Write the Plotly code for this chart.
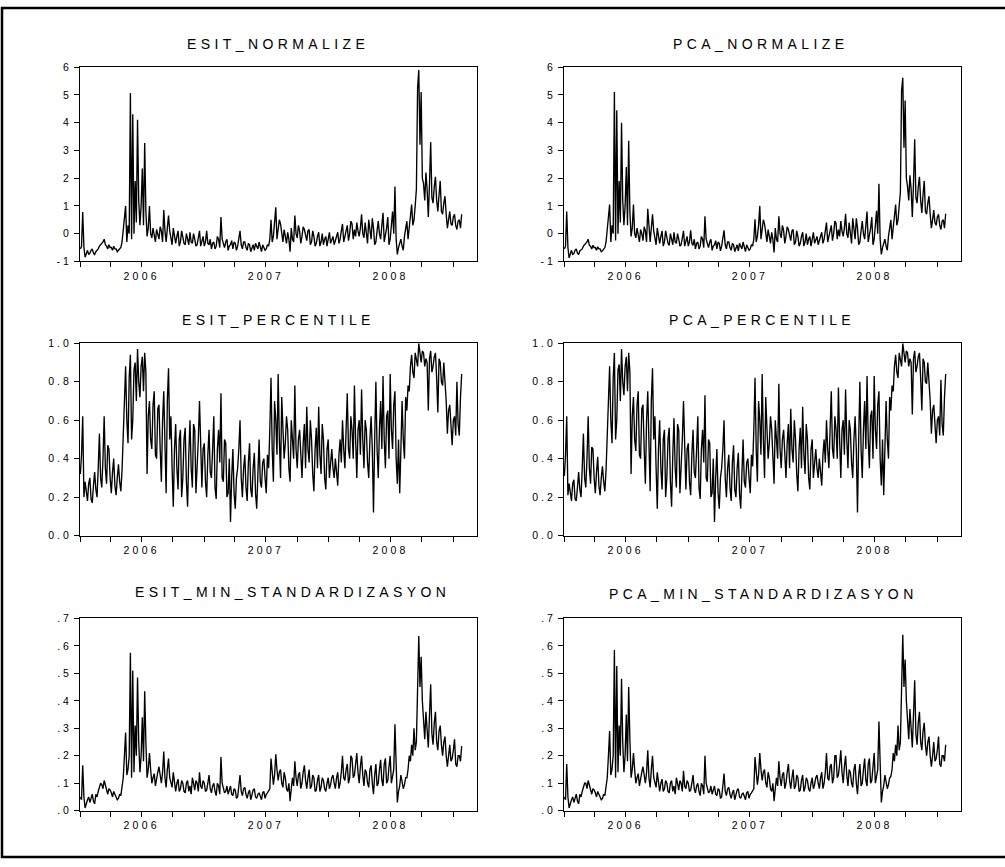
import plotly.graph_objects as go
import pandas as pd

# two observations per week: "_a" = start of week, "_b" = mid-week
dates = pd.date_range("2006-01-02", periods=321, freq="84h")

esit_normalize_a = [
    -0.55, 0.78, -0.85, -0.6, -0.7, -0.55, -0.75, -0.6, -0.45, -0.35,
    -0.2, -0.45, -0.4, -0.5, -0.45, -0.55, -0.6, -0.5, 0.1, 1.0,
    0.3, 5.07, 4.3, 1.9, 4.1, 0.3, 2.35, 3.27, -0.1, 1.0,
    -0.15, -0.05, 0.15, -0.2, 0.1, 0.85, -0.3, 0.65, -0.1, 0.2,
    -0.35, 0.1, -0.3, -0.15, -0.4, -0.2, 0.05, -0.35, -0.2, -0.4,
    0.1, -0.3, -0.45, 0.1, -0.4, -0.55, -0.3, -0.45, -0.2, 0.6,
    -0.35, -0.3, -0.6, -0.4, -0.55, -0.35, -0.45, 0.1, -0.55, -0.3,
    -0.6, -0.4, -0.5, -0.6, -0.45, -0.3, -0.65, -0.5, -0.55, -0.45,
    0.5, -0.1, 0.95, 0.15, 0.35, -0.3, -0.1, 0.05, -0.65, -0.2,
    0.65, -0.15, 0.1, -0.1, 0.15, -0.25, 0.15, -0.3, -0.1, -0.35,
    0.05, -0.3, -0.4, -0.1, -0.2, -0.35, -0.1, -0.25, 0.05, -0.2,
    0.35, -0.05, 0.3, 0.0, 0.35, 0.15, 0.4, -0.1, 0.7, -0.15,
    0.05, 0.5, -0.2, 0.2, -0.3, 0.45, -0.2, 0.75, -0.1, 0.6,
    -0.2, 0.8, 1.7, -0.75, -0.3, -0.45, -0.1, 0.45, 0.3, 1.05,
    0.5, 1.6, 5.9, 5.1, 1.8, 2.2, 0.6, 3.3, 1.1, 2.05,
    0.8, 1.9, 0.7, 1.35, 0.2, 0.8, 0.3, 0.7, 0.15, 0.5,
    0.7,
]
esit_normalize_b = [
    -0.45, -0.5, -0.7, -0.75, -0.6, -0.7, -0.65, -0.55, -0.4, -0.3,
    -0.4, -0.55, -0.5, -0.6, -0.55, -0.65, -0.55, -0.3, 0.4, -0.3,
    0.0, -0.2, 0.0, 0.4, 1.2, 1.0, 0.3, 0.8, 0.2, 0.0,
    0.2, -0.3, 0.0, 0.25, -0.3, 0.1, 0.2, 0.1, -0.4, -0.1,
    -0.1, -0.45, 0.1, -0.35, 0.0, -0.4, -0.3, 0.0, -0.45, -0.1,
    -0.45, -0.1, -0.3, -0.35, -0.2, -0.35, -0.55, -0.1, -0.5, -0.2,
    -0.5, -0.2, -0.45, -0.25, -0.3, -0.6, -0.2, -0.4, -0.3, -0.5,
    -0.35, -0.65, -0.4, -0.35, -0.55, -0.5, -0.4, -0.6, -0.4, -0.2,
    -0.3, 0.3, -0.2, 0.5, -0.1, 0.15, -0.35, -0.2, 0.2, -0.3,
    0.0, 0.3, -0.35, 0.25, -0.1, 0.1, -0.4, 0.1, -0.45, -0.1,
    -0.45, 0.0, -0.2, -0.45, 0.05, -0.2, -0.4, -0.05, -0.35, 0.1,
    -0.3, 0.2, -0.25, 0.45, -0.2, -0.1, 0.1, 0.2, 0.0, 0.4,
    -0.35, 0.1, 0.55, -0.4, 0.1, 0.0, 0.3, -0.3, 0.2, -0.4,
    0.3, 0.0, -0.2, -0.5, -0.2, -0.6, 0.2, -0.2, 0.6, 0.3,
    1.0, 5.25, 3.2, 2.0, 1.2, 1.6, 1.8, 1.3, 1.7, 1.2,
    1.4, 0.8, 1.1, 0.7, 0.5, 0.35, 0.6, 0.3, 0.45, 0.2,
]

pca_normalize_a = [
    -0.55, 0.8, -0.87, -0.6, -0.72, -0.55, -0.75, -0.58, -0.45, -0.33,
    -0.2, -0.45, -0.42, -0.5, -0.47, -0.55, -0.62, -0.5, 0.1, 1.05,
    0.3, 5.1, 4.45, 1.9, 4.0, 0.3, 2.4, 3.35, -0.1, 1.05,
    -0.15, -0.05, 0.15, -0.25, 0.1, 0.9, -0.3, 0.7, -0.1, 0.2,
    -0.35, 0.1, -0.3, -0.15, -0.42, -0.2, 0.05, -0.35, -0.2, -0.4,
    0.1, -0.3, -0.45, 0.12, -0.42, -0.55, -0.3, -0.45, -0.2, 0.63,
    -0.35, -0.3, -0.6, -0.4, -0.55, -0.35, -0.45, 0.12, -0.55, -0.3,
    -0.6, -0.4, -0.5, -0.62, -0.45, -0.3, -0.65, -0.5, -0.55, -0.45,
    0.52, -0.1, 1.0, 0.15, 0.35, -0.3, -0.1, 0.05, -0.68, -0.2,
    0.63, -0.15, 0.12, -0.1, 0.15, -0.25, 0.15, -0.3, -0.1, -0.35,
    0.05, -0.3, -0.4, -0.1, -0.2, -0.35, -0.1, -0.25, 0.05, -0.2,
    0.4, -0.05, 0.3, 0.0, 0.38, 0.15, 0.45, -0.1, 0.72, -0.15,
    0.05, 0.55, -0.2, 0.2, -0.3, 0.45, -0.2, 0.8, -0.1, 0.6,
    -0.2, 0.82, 1.8, -0.75, -0.3, -0.45, -0.1, 0.5, 0.3, 1.05,
    0.5, 1.5, 5.62, 4.8, 1.7, 2.1, 0.6, 3.4, 1.1, 2.05,
    0.75, 1.9, 0.7, 1.35, 0.2, 0.85, 0.3, 0.7, 0.15, 0.5,
    0.72,
]
pca_normalize_b = [
    -0.45, -0.5, -0.72, -0.75, -0.6, -0.7, -0.62, -0.55, -0.4, -0.3,
    -0.42, -0.55, -0.5, -0.6, -0.55, -0.65, -0.55, -0.3, 0.45, -0.3,
    0.0, -0.25, 0.0, 0.4, 1.2, 1.0, 0.3, 0.8, 0.2, 0.0,
    0.2, -0.3, 0.0, 0.25, -0.3, 0.1, 0.2, 0.1, -0.4, -0.1,
    -0.1, -0.45, 0.1, -0.35, 0.0, -0.4, -0.3, 0.0, -0.45, -0.1,
    -0.45, -0.1, -0.3, -0.35, -0.2, -0.35, -0.55, -0.1, -0.5, -0.2,
    -0.5, -0.2, -0.45, -0.25, -0.3, -0.62, -0.2, -0.4, -0.3, -0.5,
    -0.35, -0.65, -0.4, -0.35, -0.55, -0.5, -0.4, -0.6, -0.4, -0.2,
    -0.3, 0.3, -0.2, 0.5, -0.1, 0.15, -0.35, -0.2, 0.2, -0.3,
    0.0, 0.3, -0.35, 0.25, -0.1, 0.1, -0.4, 0.1, -0.45, -0.1,
    -0.45, 0.0, -0.2, -0.45, 0.05, -0.2, -0.4, -0.05, -0.35, 0.1,
    -0.3, 0.2, -0.25, 0.45, -0.2, -0.1, 0.1, 0.2, 0.0, 0.4,
    -0.35, 0.1, 0.55, -0.4, 0.1, 0.0, 0.3, -0.3, 0.2, -0.4,
    0.3, 0.0, -0.2, -0.5, -0.2, -0.6, 0.2, -0.2, 0.6, 0.3,
    1.0, 5.15, 3.1, 2.0, 1.2, 1.6, 1.8, 1.3, 1.7, 1.2,
    1.4, 0.8, 1.1, 0.7, 0.5, 0.4, 0.6, 0.3, 0.45, 0.2,
]

esit_percentile_a = [
    0.32, 0.62, 0.28, 0.18, 0.3, 0.17, 0.33, 0.2, 0.53, 0.25,
    0.62, 0.27, 0.45, 0.22, 0.4, 0.21, 0.37, 0.23, 0.5, 0.88,
    0.48, 0.94, 0.6, 0.9, 0.97, 0.72, 0.93, 0.95, 0.32, 0.7,
    0.45, 0.75, 0.4, 0.68, 0.28, 0.75, 0.22, 0.87, 0.62, 0.15,
    0.58, 0.24, 0.55, 0.3, 0.56, 0.15, 0.6, 0.25, 0.55, 0.35,
    0.7, 0.25, 0.48, 0.2, 0.55, 0.3, 0.62, 0.19, 0.55, 0.74,
    0.28, 0.48, 0.22, 0.07, 0.45, 0.14, 0.35, 0.6, 0.2, 0.42,
    0.18, 0.48, 0.2, 0.43, 0.14, 0.5, 0.25, 0.4, 0.22, 0.35,
    0.82, 0.28, 0.6, 0.84, 0.3, 0.58, 0.48, 0.55, 0.28, 0.5,
    0.78, 0.35, 0.55, 0.3, 0.58, 0.67, 0.38, 0.5, 0.23, 0.56,
    0.67, 0.32, 0.5, 0.24, 0.5, 0.38, 0.35, 0.4, 0.26, 0.5,
    0.6, 0.35, 0.74, 0.4, 0.55, 0.78, 0.3, 0.6, 0.76, 0.35,
    0.55, 0.3, 0.62, 0.12, 0.8, 0.3, 0.7, 0.83, 0.35, 0.65,
    0.84, 0.45, 0.75, 0.27, 0.22, 0.7, 0.4, 0.65, 0.75, 0.94,
    0.82, 0.92, 1.0, 0.9, 0.95, 0.92, 0.65, 0.96, 0.88, 0.95,
    0.64, 0.9, 0.78, 0.8, 0.53, 0.68, 0.47, 0.62, 0.8, 0.52,
    0.84,
]
esit_percentile_b = [
    0.42, 0.2, 0.22, 0.27, 0.19, 0.26, 0.24, 0.35, 0.3, 0.4,
    0.35, 0.47, 0.3, 0.33, 0.26, 0.3, 0.28, 0.34, 0.64, 0.6,
    0.82, 0.5, 0.86, 0.7, 0.8, 0.88, 0.75, 0.85, 0.62, 0.5,
    0.68, 0.42, 0.66, 0.45, 0.6, 0.48, 0.7, 0.5, 0.35, 0.45,
    0.35, 0.5, 0.2, 0.5, 0.28, 0.42, 0.35, 0.58, 0.22, 0.5,
    0.4, 0.45, 0.28, 0.42, 0.33, 0.45, 0.25, 0.45, 0.38, 0.3,
    0.5, 0.2, 0.4, 0.3, 0.22, 0.3, 0.45, 0.3, 0.35, 0.25,
    0.38, 0.24, 0.35, 0.22, 0.32, 0.28, 0.38, 0.3, 0.42, 0.55,
    0.45, 0.7, 0.42, 0.5, 0.72, 0.4, 0.62, 0.35, 0.6, 0.4,
    0.45, 0.5, 0.4, 0.48, 0.35, 0.45, 0.6, 0.32, 0.45, 0.35,
    0.42, 0.58, 0.3, 0.45, 0.3, 0.45, 0.3, 0.33, 0.42, 0.38,
    0.45, 0.55, 0.45, 0.62, 0.4, 0.5, 0.55, 0.42, 0.5, 0.6,
    0.38, 0.5, 0.45, 0.5, 0.45, 0.55, 0.45, 0.5, 0.62, 0.4,
    0.55, 0.68, 0.4, 0.5, 0.45, 0.5, 0.72, 0.78, 0.88, 0.85,
    0.95, 0.88, 0.93, 0.96, 0.88, 0.9, 0.92, 0.85, 0.93, 0.82,
    0.92, 0.8, 0.9, 0.7, 0.65, 0.55, 0.6, 0.52, 0.58, 0.72,
]

pca_percentile_a = [
    0.31, 0.62, 0.27, 0.18, 0.29, 0.18, 0.33, 0.2, 0.53, 0.25,
    0.62, 0.27, 0.45, 0.22, 0.41, 0.21, 0.36, 0.23, 0.5, 0.88,
    0.48, 0.95, 0.6, 0.89, 0.97, 0.73, 0.93, 0.95, 0.32, 0.72,
    0.44, 0.75, 0.4, 0.68, 0.27, 0.75, 0.23, 0.87, 0.62, 0.14,
    0.6, 0.24, 0.55, 0.3, 0.56, 0.15, 0.61, 0.25, 0.55, 0.35,
    0.7, 0.24, 0.48, 0.21, 0.55, 0.3, 0.62, 0.19, 0.55, 0.73,
    0.28, 0.48, 0.22, 0.07, 0.45, 0.14, 0.35, 0.6, 0.2, 0.42,
    0.18, 0.47, 0.2, 0.43, 0.14, 0.5, 0.25, 0.4, 0.22, 0.36,
    0.82, 0.28, 0.6, 0.84, 0.3, 0.58, 0.48, 0.55, 0.27, 0.5,
    0.79, 0.35, 0.55, 0.3, 0.58, 0.66, 0.38, 0.5, 0.23, 0.56,
    0.67, 0.32, 0.5, 0.24, 0.5, 0.38, 0.35, 0.4, 0.26, 0.5,
    0.6, 0.35, 0.75, 0.4, 0.55, 0.77, 0.3, 0.6, 0.76, 0.35,
    0.55, 0.3, 0.62, 0.12, 0.8, 0.3, 0.7, 0.83, 0.35, 0.65,
    0.83, 0.45, 0.75, 0.26, 0.21, 0.7, 0.4, 0.65, 0.75, 0.94,
    0.82, 0.92, 1.0, 0.9, 0.95, 0.92, 0.63, 0.96, 0.88, 0.95,
    0.65, 0.9, 0.79, 0.8, 0.53, 0.68, 0.48, 0.62, 0.81, 0.52,
    0.84,
]
pca_percentile_b = [
    0.42, 0.21, 0.22, 0.27, 0.19, 0.25, 0.24, 0.35, 0.3, 0.4,
    0.35, 0.46, 0.3, 0.33, 0.26, 0.3, 0.28, 0.34, 0.63, 0.6,
    0.82, 0.5, 0.86, 0.7, 0.8, 0.88, 0.75, 0.85, 0.62, 0.5,
    0.68, 0.42, 0.66, 0.45, 0.6, 0.48, 0.7, 0.5, 0.35, 0.45,
    0.35, 0.5, 0.2, 0.5, 0.28, 0.42, 0.35, 0.58, 0.22, 0.5,
    0.4, 0.45, 0.28, 0.42, 0.33, 0.45, 0.25, 0.45, 0.38, 0.3,
    0.5, 0.2, 0.4, 0.3, 0.22, 0.3, 0.45, 0.3, 0.35, 0.25,
    0.38, 0.24, 0.35, 0.22, 0.32, 0.28, 0.38, 0.3, 0.42, 0.55,
    0.45, 0.7, 0.42, 0.5, 0.72, 0.4, 0.62, 0.35, 0.6, 0.4,
    0.45, 0.5, 0.4, 0.48, 0.35, 0.45, 0.6, 0.32, 0.45, 0.35,
    0.42, 0.58, 0.3, 0.45, 0.3, 0.45, 0.3, 0.33, 0.42, 0.38,
    0.45, 0.55, 0.45, 0.62, 0.4, 0.5, 0.55, 0.42, 0.5, 0.6,
    0.38, 0.5, 0.45, 0.5, 0.45, 0.55, 0.45, 0.5, 0.62, 0.4,
    0.55, 0.68, 0.4, 0.5, 0.45, 0.5, 0.72, 0.78, 0.88, 0.85,
    0.95, 0.88, 0.93, 0.96, 0.88, 0.9, 0.92, 0.85, 0.93, 0.82,
    0.92, 0.8, 0.9, 0.7, 0.65, 0.55, 0.6, 0.52, 0.58, 0.72,
]

esit_min_std_a = [
    0.05, 0.165, 0.01, 0.04, 0.03, 0.06, 0.025, 0.05, 0.085, 0.095,
    0.11, 0.07, 0.08, 0.065, 0.07, 0.05, 0.045, 0.055, 0.12, 0.285,
    0.15, 0.575, 0.51, 0.31, 0.485, 0.14, 0.34, 0.435, 0.12, 0.21,
    0.1, 0.135, 0.12, 0.16, 0.1, 0.215, 0.085, 0.19, 0.1, 0.14,
    0.07, 0.115, 0.08, 0.1, 0.065, 0.11, 0.09, 0.12, 0.075, 0.1,
    0.14, 0.08, 0.1, 0.075, 0.13, 0.065, 0.1, 0.055, 0.09, 0.195,
    0.085, 0.07, 0.06, 0.09, 0.055, 0.075, 0.05, 0.13, 0.055, 0.085,
    0.045, 0.075, 0.06, 0.08, 0.045, 0.065, 0.04, 0.07, 0.06, 0.075,
    0.19, 0.095, 0.205, 0.11, 0.15, 0.085, 0.12, 0.07, 0.035, 0.12,
    0.18, 0.09, 0.14, 0.1, 0.165, 0.08, 0.15, 0.09, 0.12, 0.075,
    0.13, 0.085, 0.11, 0.07, 0.12, 0.095, 0.13, 0.08, 0.14, 0.1,
    0.2, 0.11, 0.17, 0.12, 0.19, 0.13, 0.21, 0.1, 0.2, 0.09,
    0.14, 0.085, 0.165, 0.06, 0.17, 0.1, 0.185, 0.09, 0.19, 0.11,
    0.2, 0.12, 0.315, 0.03, 0.09, 0.11, 0.095, 0.12, 0.2, 0.24,
    0.3, 0.25, 0.636, 0.56, 0.32, 0.36, 0.23, 0.46, 0.24, 0.36,
    0.22, 0.31, 0.2, 0.27, 0.16, 0.24, 0.19, 0.26, 0.16, 0.2,
    0.235,
]
esit_min_std_b = [
    0.04, 0.05, 0.03, 0.05, 0.045, 0.035, 0.06, 0.07, 0.1, 0.08,
    0.09, 0.06, 0.075, 0.05, 0.06, 0.04, 0.06, 0.09, 0.2, 0.13,
    0.2, 0.12, 0.14, 0.2, 0.25, 0.2, 0.18, 0.25, 0.15, 0.15,
    0.12, 0.09, 0.14, 0.12, 0.14, 0.12, 0.15, 0.12, 0.085, 0.1,
    0.1, 0.07, 0.11, 0.07, 0.1, 0.07, 0.06, 0.1, 0.11, 0.07,
    0.09, 0.11, 0.07, 0.1, 0.08, 0.09, 0.07, 0.1, 0.06, 0.1,
    0.065, 0.09, 0.075, 0.06, 0.08, 0.045, 0.09, 0.07, 0.08, 0.06,
    0.065, 0.04, 0.075, 0.05, 0.06, 0.055, 0.065, 0.045, 0.065, 0.08,
    0.14, 0.13, 0.15, 0.14, 0.1, 0.14, 0.08, 0.1, 0.08, 0.09,
    0.12, 0.13, 0.08, 0.14, 0.11, 0.12, 0.08, 0.13, 0.07, 0.11,
    0.07, 0.12, 0.08, 0.1, 0.08, 0.12, 0.1, 0.12, 0.08, 0.14,
    0.12, 0.15, 0.1, 0.2, 0.12, 0.17, 0.14, 0.16, 0.13, 0.15,
    0.1, 0.15, 0.1, 0.13, 0.09, 0.15, 0.11, 0.17, 0.1, 0.16,
    0.1, 0.15, 0.12, 0.07, 0.13, 0.08, 0.12, 0.15, 0.18, 0.2,
    0.22, 0.4, 0.45, 0.4, 0.26, 0.3, 0.35, 0.28, 0.32, 0.25,
    0.29, 0.24, 0.25, 0.2, 0.2, 0.18, 0.22, 0.17, 0.2, 0.18,
]

pca_min_std_a = [
    0.05, 0.17, 0.01, 0.04, 0.03, 0.06, 0.025, 0.05, 0.085, 0.1,
    0.11, 0.07, 0.08, 0.065, 0.07, 0.05, 0.045, 0.055, 0.12, 0.29,
    0.15, 0.585, 0.527, 0.31, 0.48, 0.14, 0.35, 0.45, 0.12, 0.21,
    0.1, 0.135, 0.12, 0.16, 0.1, 0.22, 0.085, 0.2, 0.1, 0.14,
    0.07, 0.115, 0.08, 0.1, 0.065, 0.11, 0.09, 0.12, 0.075, 0.1,
    0.145, 0.08, 0.1, 0.075, 0.13, 0.065, 0.1, 0.055, 0.09, 0.2,
    0.085, 0.07, 0.06, 0.09, 0.055, 0.075, 0.05, 0.135, 0.055, 0.085,
    0.045, 0.075, 0.06, 0.08, 0.045, 0.065, 0.04, 0.07, 0.06, 0.075,
    0.195, 0.095, 0.21, 0.11, 0.15, 0.085, 0.12, 0.07, 0.035, 0.12,
    0.18, 0.09, 0.14, 0.1, 0.17, 0.08, 0.15, 0.09, 0.12, 0.075,
    0.13, 0.085, 0.11, 0.07, 0.12, 0.095, 0.13, 0.08, 0.14, 0.1,
    0.21, 0.11, 0.17, 0.12, 0.2, 0.13, 0.22, 0.1, 0.2, 0.09,
    0.14, 0.085, 0.17, 0.06, 0.17, 0.1, 0.19, 0.09, 0.19, 0.11,
    0.21, 0.12, 0.325, 0.03, 0.09, 0.11, 0.095, 0.125, 0.21, 0.24,
    0.31, 0.25, 0.64, 0.55, 0.32, 0.37, 0.23, 0.475, 0.24, 0.36,
    0.22, 0.32, 0.2, 0.27, 0.16, 0.25, 0.19, 0.27, 0.16, 0.2,
    0.24,
]
pca_min_std_b = [
    0.04, 0.05, 0.03, 0.05, 0.045, 0.035, 0.06, 0.07, 0.1, 0.08,
    0.09, 0.06, 0.075, 0.05, 0.06, 0.04, 0.06, 0.09, 0.2, 0.13,
    0.2, 0.12, 0.14, 0.2, 0.25, 0.2, 0.18, 0.26, 0.15, 0.15,
    0.12, 0.09, 0.14, 0.12, 0.14, 0.12, 0.15, 0.12, 0.085, 0.1,
    0.1, 0.07, 0.11, 0.07, 0.1, 0.07, 0.06, 0.1, 0.11, 0.07,
    0.09, 0.11, 0.07, 0.1, 0.08, 0.09, 0.07, 0.1, 0.06, 0.1,
    0.065, 0.09, 0.075, 0.06, 0.08, 0.045, 0.09, 0.07, 0.08, 0.06,
    0.065, 0.04, 0.075, 0.05, 0.06, 0.055, 0.065, 0.045, 0.065, 0.08,
    0.14, 0.13, 0.15, 0.14, 0.1, 0.14, 0.08, 0.1, 0.08, 0.09,
    0.12, 0.13, 0.08, 0.14, 0.11, 0.12, 0.08, 0.13, 0.07, 0.11,
    0.07, 0.12, 0.08, 0.1, 0.08, 0.12, 0.1, 0.12, 0.08, 0.14,
    0.12, 0.16, 0.1, 0.2, 0.12, 0.17, 0.14, 0.16, 0.13, 0.15,
    0.1, 0.15, 0.1, 0.13, 0.09, 0.15, 0.11, 0.17, 0.1, 0.16,
    0.1, 0.15, 0.12, 0.07, 0.13, 0.08, 0.12, 0.15, 0.18, 0.2,
    0.22, 0.42, 0.45, 0.4, 0.26, 0.3, 0.35, 0.28, 0.32, 0.25,
    0.29, 0.24, 0.25, 0.2, 0.2, 0.18, 0.22, 0.17, 0.2, 0.18,
]

titles = ["ESIT_NORMALIZE", "PCA_NORMALIZE", "ESIT_PERCENTILE",
          "PCA_PERCENTILE", "ESIT_MIN_STANDARDIZASYON", "PCA_MIN_STANDARDIZASYON"]

norm_ticks = [-1, 0, 1, 2, 3, 4, 5, 6]
norm_text = ["-1", "0", "1", "2", "3", "4", "5", "6"]
pct_ticks = [0.0, 0.2, 0.4, 0.6, 0.8, 1.0]
pct_text = ["0.0", "0.2", "0.4", "0.6", "0.8", "1.0"]
min_ticks = [0.0, 0.1, 0.2, 0.3, 0.4, 0.5, 0.6, 0.7]
min_text = [".0", ".1", ".2", ".3", ".4", ".5", ".6", ".7"]

x_tickvals = ["2006-01-01", "2006-04-01", "2006-07-01", "2006-10-01",
              "2007-01-01", "2007-04-01", "2007-07-01", "2007-10-01",
              "2008-01-01", "2008-04-01", "2008-07-01", "2008-10-01",
              "2009-01-01"]
x_ticktext = ["", "", "2006", "", "", "", "2007", "", "", "", "2008", "", ""]


def merge(a, b):
    out = []
    for i in range(len(b)):
        out.append(a[i])
        out.append(b[i])
    out.append(a[-1])
    return out


series = [merge(esit_normalize_a, esit_normalize_b),
          merge(pca_normalize_a, pca_normalize_b),
          merge(esit_percentile_a, esit_percentile_b),
          merge(pca_percentile_a, pca_percentile_b),
          merge(esit_min_std_a, esit_min_std_b),
          merge(pca_min_std_a, pca_min_std_b)]

W, H = 1005, 867
FONT = "Liberation Sans, Arial, sans-serif"


def sp(t, s):
    return f'<span style="letter-spacing:{s}px">{t}</span>' if t else ""


col_px = [(80, 477), (564, 961)]
row_px = [(62, 259), (342, 537), (621, 816)]
title_px = [(278, 39), (760, 39), (278, 318), (762, 318), (292, 594), (763, 596)]
y_cfg = [(norm_ticks, norm_text, [-1, 6]), (norm_ticks, norm_text, [-1, 6]),
         (pct_ticks, pct_text, [0, 1]), (pct_ticks, pct_text, [0, 1]),
         (min_ticks, min_text, [0, 0.7]), (min_ticks, min_text, [0, 0.7])]

fig = go.Figure()
layout = dict(
    width=W, height=H, autosize=False,
    margin=dict(l=0, r=0, t=0, b=0),
    paper_bgcolor="white", plot_bgcolor="white",
    showlegend=False,
    font=dict(family=FONT, color="black", size=10),
)
annotations = []
for k in range(6):
    r, c = divmod(k, 2)
    x0, x1 = col_px[c]
    y0, y1 = row_px[r]
    ax = "" if k == 0 else str(k + 1)
    fig.add_trace(go.Scatter(
        x=dates, y=series[k], mode="lines",
        line=dict(color="black", width=1.35),
        xaxis="x" + ax, yaxis="y" + ax, hoverinfo="x+y",
    ))
    tv, tt, rng = y_cfg[k]
    layout["xaxis" + ax] = dict(
        domain=[x0 / W, x1 / W], anchor="y" + ax, type="date",
        range=["2006-01-01", "2009-03-12"],
        tickmode="array", tickvals=x_tickvals,
        ticktext=[sp(t, 3.2) for t in x_ticktext],
        ticks="outside", ticklen=5, tickwidth=1, tickcolor="black",
        showgrid=False, zeroline=False,
        showline=True, mirror=True, linecolor="black", linewidth=1,
        tickfont=dict(family=FONT, size=10.5, color="black"),
    )
    layout["yaxis" + ax] = dict(
        domain=[1 - y1 / H, 1 - y0 / H], anchor="x" + ax,
        range=rng, tickmode="array", tickvals=tv,
        ticktext=[sp(t, 3) for t in tt],
        ticks="outside", ticklen=5, tickwidth=1, tickcolor="black",
        showgrid=False, zeroline=False,
        showline=True, mirror=True, linecolor="black", linewidth=1,
        tickfont=dict(family=FONT, size=10.5, color="black"),
    )
    tx, ty = title_px[k]
    annotations.append(dict(
        text=sp(titles[k], 4.4), xref="paper", yref="paper",
        x=tx / W, y=1 - ty / H, xanchor="center", yanchor="middle",
        showarrow=False, font=dict(family=FONT, size=14, color="black"),
    ))

layout["annotations"] = annotations
layout["shapes"] = [dict(
    type="rect", xref="paper", yref="paper",
    x0=2 / W, x1=1.02, y0=1 - 863 / H, y1=1 - 2 / H,
    line=dict(color="black", width=2.5), fillcolor="rgba(0,0,0,0)",
)]
fig.update_layout(**layout)

fig.write_html("out.html", config={"displayModeBar": False},
               post_script="document.body.style.margin='0px';")
